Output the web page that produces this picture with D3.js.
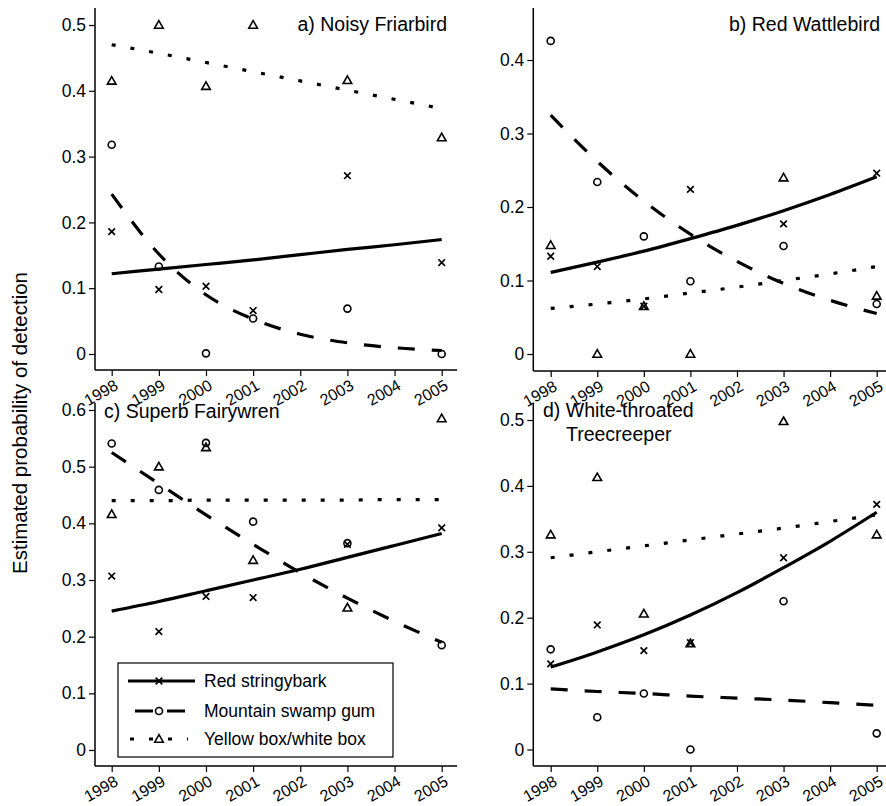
<!DOCTYPE html>
<html>
<head>
<meta charset="utf-8">
<script src="https://cdn.jsdelivr.net/npm/d3@7"></script>
<style>
  body { margin: 0; background: #fff; }
  svg { display: block; }
  svg text { font-family: "Liberation Sans", Arial, Helvetica, sans-serif; }
</style>
</head>
<body>
<svg id="chart" width="886" height="806"></svg>
<script>
// ---- Data ----
const fitYears = [1998, 1999, 2000, 2001, 2002, 2003, 2004, 2005];
const obsYears = [1998, 1999, 2000, 2001, 2003, 2005];
const xTickLabels = ["1998", "1999", "2000", "2001", "2002", "2003", "2004", "2005"];
const seriesNames = ["Red stringybark", "Mountain swamp gum", "Yellow box/white box"];

// a) Noisy Friarbird
const aStringyObs = [0.186, 0.098, 0.103, 0.066, 0.271, 0.139];
const aSwampObs   = [0.318, 0.133, 0.001, 0.054, 0.069, 0.000];
const aBoxObs     = [0.415, 0.500, 0.407, 0.500, 0.416, 0.329];
const aStringyFit = [0.122, 0.129, 0.136, 0.143, 0.151, 0.159, 0.166, 0.174];
const aSwampFit   = [0.243, 0.152, 0.090, 0.053, 0.030, 0.017, 0.0095, 0.0053];
const aBoxFit     = [0.470, 0.457, 0.443, 0.429, 0.415, 0.401, 0.387, 0.373];
const aTicks = [0, 0.1, 0.2, 0.3, 0.4, 0.5];

// b) Red Wattlebird
const bStringyObs = [0.133, 0.119, 0.065, 0.224, 0.177, 0.246];
const bSwampObs   = [0.426, 0.234, 0.160, 0.099, 0.147, 0.068];
const bBoxObs     = [0.148, 0.000, 0.065, 0.000, 0.240, 0.079];
const bStringyFit = [0.111, 0.125, 0.140, 0.157, 0.175, 0.195, 0.217, 0.241];
const bSwampFit   = [0.325, 0.262, 0.208, 0.163, 0.126, 0.096, 0.073, 0.055];
const bBoxFit     = [0.062, 0.068, 0.075, 0.083, 0.091, 0.100, 0.109, 0.119];
const bTicks = [0, 0.1, 0.2, 0.3, 0.4];

// c) Superb Fairywren
const cStringyObs = [0.307, 0.209, 0.271, 0.269, 0.363, 0.392];
const cSwampObs   = [0.541, 0.459, 0.542, 0.403, 0.365, 0.185];
const cBoxObs     = [0.416, 0.500, 0.534, 0.335, 0.251, 0.585];
const cStringyFit = [0.245, 0.262, 0.281, 0.300, 0.319, 0.340, 0.361, 0.382];
const cSwampFit   = [0.525, 0.470, 0.415, 0.363, 0.313, 0.268, 0.227, 0.190];
const cBoxFit     = [0.440, 0.440, 0.441, 0.441, 0.441, 0.441, 0.442, 0.442];
const cTicks = [0, 0.1, 0.2, 0.3, 0.4, 0.5, 0.6];

// d) White-throated Treecreeper
const dStringyObs = [0.130, 0.189, 0.150, 0.162, 0.291, 0.372];
const dSwampObs   = [0.152, 0.049, 0.085, 0.000, 0.225, 0.0245];
const dBoxObs     = [0.326, 0.413, 0.206, 0.161, 0.498, 0.326];
const dStringyFit = [0.125, 0.148, 0.174, 0.204, 0.238, 0.276, 0.316, 0.360];
const dSwampFit   = [0.092, 0.088, 0.085, 0.081, 0.078, 0.075, 0.071, 0.067];
const dBoxFit     = [0.291, 0.300, 0.309, 0.318, 0.327, 0.336, 0.346, 0.356];
const dTicks = [0, 0.1, 0.2, 0.3, 0.4, 0.5];

// ---- Layout ----
const panels = [
  { title: ["a) Noisy Friarbird"], titleAnchor: "end", titleX: 447, titleY: 31,
    axisX: 95, xr: [111.7, 441.7], xEnd: 457, axisTop: 8, axisBottom: 370,
    yDom: [0, 0.5], yRange: [354, 25], ticks: aTicks,
    obs: [aStringyObs, aSwampObs, aBoxObs], fit: [aStringyFit, aSwampFit, aBoxFit] },
  { title: ["b) Red Wattlebird"], titleAnchor: "end", titleX: 880, titleY: 31,
    axisX: 533.3, xr: [550.7, 876.7], xEnd: 886, axisTop: 8, axisBottom: 371,
    yDom: [0, 0.4], yRange: [354, 60], ticks: bTicks,
    obs: [bStringyObs, bSwampObs, bBoxObs], fit: [bStringyFit, bSwampFit, bBoxFit] },
  { title: ["c) Superb Fairywren"], titleAnchor: "start", titleX: 104, titleY: 418,
    axisX: 95, xr: [111.7, 441.7], xEnd: 457, axisTop: 403, axisBottom: 766,
    yDom: [0, 0.6], yRange: [750, 410], ticks: cTicks,
    obs: [cStringyObs, cSwampObs, cBoxObs], fit: [cStringyFit, cSwampFit, cBoxFit] },
  { title: ["d) White-throated", "Treecreeper"], titleAnchor: "start", titleX: 543, titleY: 417,
    axisX: 533.3, xr: [550.7, 876.7], xEnd: 886, axisTop: 403, axisBottom: 766,
    yDom: [0, 0.5], yRange: [749.5, 420], ticks: dTicks,
    obs: [dStringyObs, dSwampObs, dBoxObs], fit: [dStringyFit, dSwampFit, dBoxFit] }
];

const lineStyles = [
  { dash: null },
  { dash: "17,17" },
  { dash: "4,15" }
];

const svg = d3.select("#chart");
const TICK_FS = 17.5;
const XLAB_FS = 16;
const TITLE_FS = 19.5;
const LEG_FS = 17.5;
const FF = '"Liberation Sans", Arial, Helvetica, sans-serif';

function drawMarker(g, type, x, y) {
  if (type === 0) {
    const s = 3.3;
    g.append("path").attr("d", `M${x - s},${y - s}L${x + s},${y + s}M${x - s},${y + s}L${x + s},${y - s}`)
      .attr("stroke", "#000").attr("stroke-width", 1.7).attr("fill", "none");
  } else if (type === 1) {
    g.append("circle").attr("cx", x).attr("cy", y).attr("r", 3.5)
      .attr("stroke", "#000").attr("stroke-width", 1.6).attr("fill", "none");
  } else {
    const s = 4.3;
    g.append("path").attr("d", `M${x},${y - s}L${x + s},${y + s * 0.75}L${x - s},${y + s * 0.75}Z`)
      .attr("stroke", "#000").attr("stroke-width", 1.6).attr("fill", "none");
  }
}

panels.forEach(p => {
  const g = svg.append("g");
  const x = d3.scaleLinear().domain([1998, 2005]).range(p.xr);
  const y = d3.scaleLinear().domain(p.yDom).range(p.yRange);

  // axes lines
  g.append("line").attr("x1", p.axisX).attr("x2", p.axisX).attr("y1", p.axisTop).attr("y2", p.axisBottom)
    .attr("stroke", "#000").attr("stroke-width", 1.5);
  g.append("line").attr("x1", p.axisX).attr("x2", p.xEnd).attr("y1", p.axisBottom).attr("y2", p.axisBottom)
    .attr("stroke", "#000").attr("stroke-width", 1.5);

  // y axis ticks
  const yAxis = d3.axisLeft(y).tickValues(p.ticks).tickSize(6).tickPadding(3)
    .tickFormat(v => v === 0 ? "0" : v.toFixed(1));
  const ya = g.append("g").attr("transform", `translate(${p.axisX},0)`).call(yAxis)
    .attr("font-family", FF).attr("font-size", TICK_FS);
  ya.select(".domain").remove();
  ya.selectAll("text").attr("fill", "#000");
  ya.selectAll("line").attr("stroke", "#000").attr("stroke-width", 1.2);

  // x axis ticks
  const xAxis = d3.axisBottom(x).tickValues(fitYears).tickSize(6).tickFormat((d, i) => xTickLabels[i]);
  const xa = g.append("g").attr("transform", `translate(0,${p.axisBottom})`).call(xAxis)
    .attr("font-family", FF).attr("font-size", XLAB_FS);
  xa.select(".domain").remove();
  xa.selectAll("line").attr("stroke", "#000").attr("stroke-width", 1.2);
  xa.selectAll("text").attr("fill", "#000")
    .attr("text-anchor", "end").attr("dy", null).attr("y", 0)
    .attr("transform", "translate(7,18.5) rotate(-30)");

  // fitted lines
  const line = d3.line().x((d, i) => x(fitYears[i])).y(d => y(d)).curve(d3.curveMonotoneX);
  p.fit.forEach((vals, k) => {
    const path = g.append("path").datum(vals).attr("d", line)
      .attr("fill", "none").attr("stroke", "#000").attr("stroke-width", 3.2);
    if (lineStyles[k].dash) path.attr("stroke-dasharray", lineStyles[k].dash);
  });

  // observations
  p.obs.forEach((vals, k) => {
    vals.forEach((v, i) => drawMarker(g, k, x(obsYears[i]), y(v)));
  });

  // title
  const t = g.append("text").attr("x", p.titleX).attr("y", p.titleY)
    .attr("text-anchor", p.titleAnchor).attr("font-size", TITLE_FS).attr("fill", "#000");
  p.title.forEach((s, i) => {
    t.append("tspan").attr("x", p.titleX + (i > 0 ? 23 : 0)).attr("dy", i === 0 ? 0 : 24).text(s);
  });
});

// y axis title
svg.append("text").attr("transform", "translate(27,423) rotate(-90)")
  .attr("text-anchor", "middle").attr("font-size", 20.5).attr("fill", "#000")
  .text("Estimated probability of detection");

// legend
const lg = svg.append("g").attr("transform", "translate(118,663)");
lg.append("rect").attr("x", 0).attr("y", 0).attr("width", 275).attr("height", 94)
  .attr("fill", "#fff").attr("stroke", "#000").attr("stroke-width", 1.2);
const rowY = [18, 48, 76];
seriesNames.forEach((name, k) => {
  const yy = rowY[k];
  if (k === 0) {
    lg.append("line").attr("x1", 10).attr("x2", 77).attr("y1", yy).attr("y2", yy)
      .attr("stroke", "#000").attr("stroke-width", 3.2);
  } else if (k === 1) {
    lg.append("line").attr("x1", 17).attr("x2", 67).attr("y1", yy).attr("y2", yy)
      .attr("stroke", "#000").attr("stroke-width", 3.2).attr("stroke-dasharray", "18,14");
  } else {
    lg.append("line").attr("x1", 12).attr("x2", 70).attr("y1", yy).attr("y2", yy)
      .attr("stroke", "#000").attr("stroke-width", 3.2).attr("stroke-dasharray", "4,15");
  }
  drawMarker(lg, k, 41, yy);
  lg.append("text").attr("x", 86).attr("y", yy + 6).attr("font-size", LEG_FS).attr("fill", "#000").text(name);
});
</script>
</body>
</html>
